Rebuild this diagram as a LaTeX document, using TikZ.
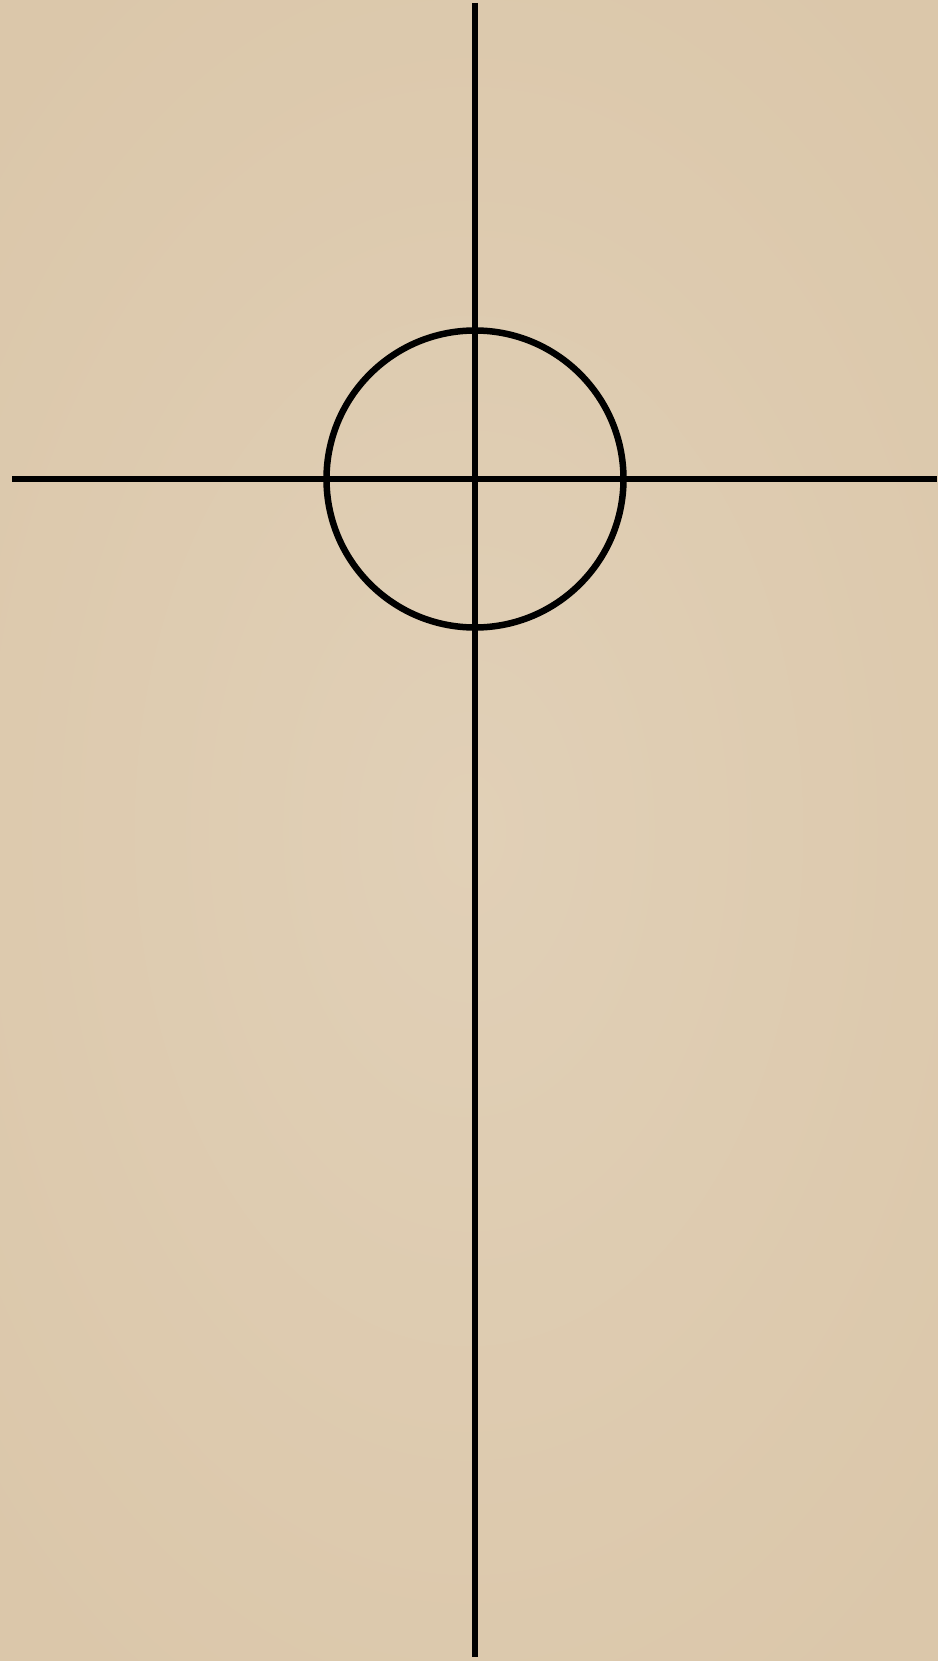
\documentclass[tikz,border=0pt]{standalone}
\definecolor{paperin}{RGB}{225,208,183}
\definecolor{paperout}{RGB}{219,199,170}
\tikzset{ink/.style={draw=black,line width=6.5pt}}
\begin{document}
\begin{tikzpicture}[x=1pt,y=-1pt]
\useasboundingbox (0,0) rectangle (937,1661);
\shade[inner color=paperin,outer color=paperout] (-200,-200) rectangle (1137,1861);
\coordinate (c) at (475,479);
\coordinate (top) at (475,3);
\coordinate (bot) at (475,1657);
\coordinate (lft) at (12,479);
\coordinate (rgt) at (937,479);
\draw[ink] (top) -- (bot);
\draw[ink] (lft) -- (rgt);
\draw[ink] (c) circle[radius=148.5];
\end{tikzpicture}
\end{document}
